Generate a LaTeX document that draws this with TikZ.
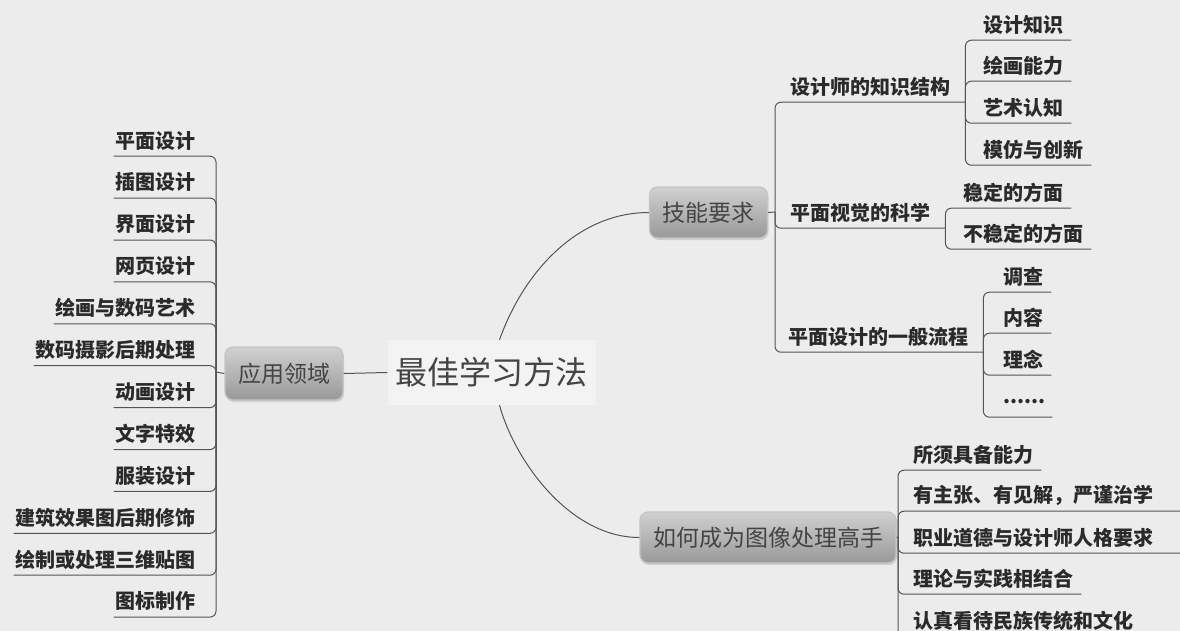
\documentclass[tikz,border=0pt]{standalone}
\usepackage{fontspec}
\newfontfamily\cjk{Noto Sans CJK SC}
\usetikzlibrary{shadows}
\definecolor{bg}{HTML}{ECECEC}
\definecolor{ln}{HTML}{555555}
\definecolor{tx}{HTML}{2A2A2A}
\definecolor{bx}{HTML}{444444}
\definecolor{boxtop}{HTML}{D0D0D0}
\definecolor{boxbot}{HTML}{999999}
\definecolor{boxrim}{HTML}{C4C4C4}
\tikzset{
  leaf/.style={font=\cjk\bfseries\fontsize{20}{20}\selectfont, text=tx,
    inner xsep=0pt, inner ysep=0pt, minimum height=31pt},
  br/.style={draw=ln, line width=1pt, rounded corners=6pt},
  conn/.style={draw=ln, line width=1pt},
  topic/.style={font=\cjk\fontsize{23}{23}\selectfont, text=bx,
    rounded corners=8pt, top color=boxtop, bottom color=boxbot,
    draw=boxrim, line width=1.2pt, minimum height=51pt, inner xsep=13pt,
    drop shadow={opacity=0.25, shadow xshift=1pt, shadow yshift=-2pt}},
  centre/.style={font=\cjk\fontsize{32}{32}\selectfont, text=bx,
    fill=white!35!bg, inner xsep=8pt, minimum height=65pt}
}
\begin{document}
\begin{tikzpicture}[x=1pt,y=-1pt]
\useasboundingbox (0,0) rectangle (1180,631);
\fill[bg] (0,0) rectangle (1180,631);
\clip (0,0) rectangle (1180,631);

% centre
\node[centre] (c) at (491.5,372.5) {最佳学习方法};

% left main topic
\node[topic, minimum width=118pt, minimum height=53pt] (yy) at (284,373.5) {应用领域};
\coordinate (jL) at (216,372);
\draw[conn] (c.west) -- (yy.east);
\draw[conn] (yy.west) -- (jL);
\foreach \t [count=\i from 0] in {平面设计,插图设计,界面设计,网页设计,绘画与数码艺术,数码摄影后期处理,动画设计,文字特效,服装设计,建筑效果图后期修饰,绘制或处理三维贴图,图标制作}{
  \node[leaf, anchor=east] (L\i) at (196,{156+41.9*\i-15.5}) {\t};
  \draw[br] (jL) |- ([xshift=-2pt]L\i.south west);
}

% upper right topic
\node[topic, minimum width=117pt] (jn) at (708.5,212.5) {技能要求};
\coordinate (jA) at (775,212);
\draw[conn] ([xshift=8pt]c.north) .. controls +(25,-70) and +(-70,0) .. (jn.west);
\draw[conn] (jn.east) -- (jA);

\node[leaf, anchor=west] (A1) at (790,86.5) {设计师的知识结构};
\coordinate (jA1) at ([xshift=15pt]A1.south east);
\draw[br] (jA) |- (jA1);
\node[leaf, anchor=west] (A1a) at (983,24.5) {设计知识};
\node[leaf, anchor=west] (A1b) at (983,65.5) {绘画能力};
\node[leaf, anchor=west] (A1c) at (983,107.5) {艺术认知};
\node[leaf, anchor=west] (A1d) at (983,149.5) {模仿与创新};
\foreach \n in {A1a,A1b,A1c,A1d}{\draw[br] (jA1) |- ([xshift=8pt]\n.south east);}

\node[leaf, anchor=west] (A2) at (790,212.5) {平面视觉的科学};
\coordinate (jA2) at ([xshift=15pt]A2.south east);
\draw[br] (jA) |- (jA2);
\node[leaf, anchor=west] (A2a) at (963,192.5) {稳定的方面};
\node[leaf, anchor=west] (A2b) at (963,233.5) {不稳定的方面};
\foreach \n in {A2a,A2b}{\draw[br] (jA2) |- ([xshift=8pt]\n.south east);}

\node[leaf, anchor=west] (A3) at (788,336.5) {平面设计的一般流程};
\coordinate (jA3) at ([xshift=15pt]A3.south east);
\draw[br] (jA) |- (jA3);
\node[leaf, anchor=west] (A3a) at (1003,276.5) {调查};
\node[leaf, anchor=west] (A3b) at (1003,317.5) {内容};
\node[leaf, anchor=west] (A3c) at (1003,359.5) {理念};
\node[leaf, anchor=west] (A3d) at (1003,401.5) {......};
\foreach \n in {A3a,A3b,A3c}{\draw[br] (jA3) |- ([xshift=8pt]\n.south east);}
\draw[br] (jA3) |- ([xshift=9pt]A3c.south east |- A3d.south);

% lower right topic
\node[topic, minimum width=240pt] (rc) at (768,537.5) {如何成为图像处理高手};
\coordinate (jB) at (898,537);
\draw[conn] ([xshift=8pt]c.south) .. controls +(15,55) and +(-70,0) .. (rc.west);
\draw[conn] (rc.east) -- (jB);
\node[leaf, anchor=west] (B1) at (913,454.5) {所须具备能力};
\node[leaf, anchor=west] (B2) at (913,495.5) {有主张、有见解，严谨治学};
\node[leaf, anchor=west] (B3) at (913,537.5) {职业道德与设计师人格要求};
\node[leaf, anchor=west] (B4) at (913,578.5) {理论与实践相结合};
\node[leaf, anchor=west] (B5) at (913,620.5) {认真看待民族传统和文化};
\draw[br] (jB) |- ([xshift=8pt]B1.south east);
\draw[br] (jB) |- ([xshift=40pt]B2.south east);
\draw[br] (jB) |- ([xshift=40pt]B3.south east);
\draw[br] (jB) |- ([xshift=8pt]B4.south east);
\draw[br] (jB) |- ([xshift=8pt]B5.south east);
\end{tikzpicture}
\end{document}
